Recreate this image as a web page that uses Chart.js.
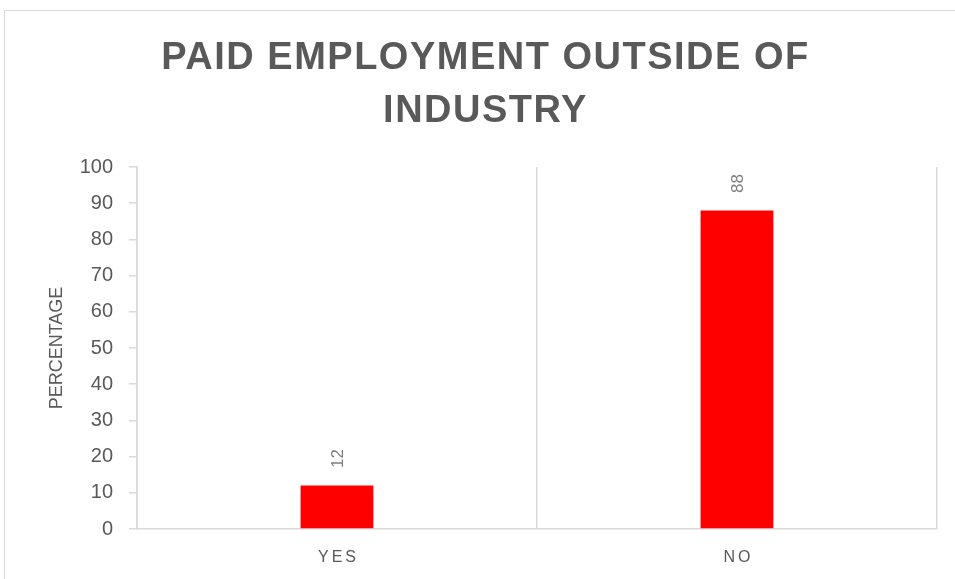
<!DOCTYPE html>
<html>
<head>
<meta charset="utf-8">
<script src="https://cdn.jsdelivr.net/npm/chart.js@4/dist/chart.umd.min.js"></script>
<style>
  body { margin: 0; background: #fff; }
  #wrap { width: 955px; height: 579px; position: relative; }
</style>
</head>
<body>
<div id="wrap"><canvas id="chart"></canvas></div>
<script>
const categories = ['YES', 'NO']
const percentages = [12, 88]
const titleLines = ['PAID EMPLOYMENT OUTSIDE OF', 'INDUSTRY']
const yAxisTitle = 'PERCENTAGE'

const gray = '#595959'
const lineGray = '#d9d9d9'

// light frame round the chart, like the office chart border
const framePlugin = {
  id: 'frame',
  beforeDraw (chart) {
    const ctx = chart.ctx
    ctx.save()
    ctx.strokeStyle = lineGray
    ctx.lineWidth = 1
    ctx.strokeRect(4.5, 10.5, chart.width + 10, chart.height + 10)
    ctx.restore()
  }
}

// spaced out bold title, two lines
const titlePlugin = {
  id: 'spacedTitle',
  afterDraw (chart) {
    const ctx = chart.ctx
    ctx.save()
    ctx.fillStyle = gray
    ctx.font = 'bold 38px "Liberation Sans", Arial, sans-serif'
    ctx.letterSpacing = '1.5px'
    ctx.textAlign = 'center'
    ctx.textBaseline = 'middle'
    titleLines.forEach((line, i) => {
      ctx.fillText(line, chart.width / 2 + 8, 59 + i * 53)
    })
    ctx.restore()
  }
}

// category names under the axis, spaced like the original
const xLabelPlugin = {
  id: 'xLabels',
  afterDraw (chart) {
    const ctx = chart.ctx
    const xScale = chart.scales.x
    ctx.save()
    ctx.fillStyle = gray
    ctx.font = '16px "Liberation Sans", Arial, sans-serif'
    ctx.letterSpacing = '3px'
    ctx.textAlign = 'center'
    ctx.textBaseline = 'middle'
    categories.forEach((cat, i) => {
      ctx.fillText(cat, xScale.getPixelForTick(i) + 1.5, xScale.top + 29)
    })
    ctx.restore()
  }
}

// rotated value labels above each bar
const barLabelPlugin = {
  id: 'barLabels',
  afterDatasetsDraw (chart) {
    const ctx = chart.ctx
    const meta = chart.getDatasetMeta(0)
    ctx.save()
    ctx.fillStyle = '#7f7f7f'
    ctx.font = '17px "Liberation Sans", Arial, sans-serif'
    ctx.textAlign = 'center'
    ctx.textBaseline = 'middle'
    meta.data.forEach((bar, i) => {
      ctx.save()
      ctx.translate(bar.x + 1, bar.y - 27)
      ctx.rotate(-Math.PI / 2)
      ctx.fillText(String(percentages[i]), 0, 0)
      ctx.restore()
    })
    ctx.restore()
  }
}

const data = {
  labels: categories,
  datasets: [{
    data: percentages,
    backgroundColor: '#ff0000',
    borderWidth: 0,
    categoryPercentage: 1,
    barPercentage: 0.182
  }]
}

const config = {
  type: 'bar',
  data: data,
  options: {
    responsive: true,
    maintainAspectRatio: false,
    animation: false,
    layout: { padding: { top: 167, right: 18, bottom: 0, left: 0 } },
    plugins: {
      legend: { display: false },
      title: { display: false },
      tooltip: { enabled: false }
    },
    scales: {
      x: {
        grid: { color: lineGray, offset: true, drawTicks: false, lineWidth: 1.5 },
        border: { color: lineGray, width: 1.5 },
        ticks: { display: false },
        afterFit (scale) { scale.height = 50 }
      },
      y: {
        min: 0,
        max: 100,
        ticks: {
          stepSize: 10,
          color: gray,
          padding: 16,
          font: { family: '"Liberation Sans", Arial, sans-serif', size: 20 }
        },
        grid: { drawOnChartArea: false, color: lineGray, tickLength: 8, lineWidth: 1.5 },
        border: { color: lineGray, width: 1.5 },
        title: {
          display: true,
          text: yAxisTitle,
          color: gray,
          padding: { top: 46 },
          font: { family: '"Liberation Sans", Arial, sans-serif', size: 18 }
        },
        afterFit (scale) { scale.width = 137 }
      }
    }
  },
  plugins: [framePlugin, titlePlugin, xLabelPlugin, barLabelPlugin]
}

const chart = new Chart(document.querySelector('#chart'), config)
</script>
</body>
</html>
